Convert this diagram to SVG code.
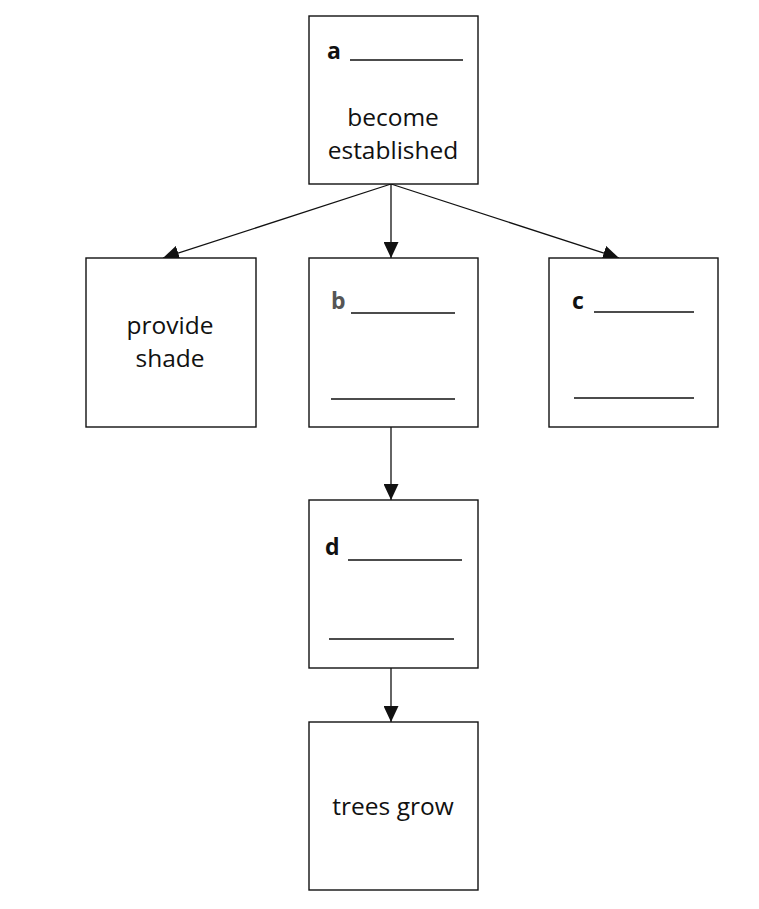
<svg xmlns="http://www.w3.org/2000/svg" width="759" height="909" viewBox="0 0 759 909">
<style>
.box{fill:#fff;stroke:#111;stroke-width:1.4}
.t{font-family:"Open Sans","Liberation Sans",sans-serif;font-size:24.5px;fill:#111;text-anchor:middle}
.lb{font-family:"Open Sans","Liberation Sans",sans-serif;font-size:23px;font-weight:bold;fill:#111}
.bl{stroke:#111;stroke-width:1.4}
.c{stroke:#111;stroke-width:1.3;fill:none}
</style>
<defs>
<marker id="ah" markerUnits="userSpaceOnUse" markerWidth="16" markerHeight="15" refX="16" refY="7.5" orient="auto" viewBox="0 0 16 15">
<path d="M0,0 L16,7.5 L0,15 z" fill="#111"/>
</marker>
</defs>
<rect width="759" height="909" fill="#fff"/>
<g id="connectors">
<line class="c" x1="391" y1="184" x2="163" y2="258" marker-end="url(#ah)"/>
<line class="c" x1="391" y1="184" x2="391" y2="258" marker-end="url(#ah)"/>
<line class="c" x1="391" y1="184" x2="619" y2="258" marker-end="url(#ah)"/>
<line class="c" x1="391" y1="427" x2="391" y2="500" marker-end="url(#ah)"/>
<line class="c" x1="391" y1="668" x2="391" y2="722" marker-end="url(#ah)"/>
</g>
<g id="node-a">
<rect class="box" x="309" y="16" width="169" height="168"/>
<text class="lb" x="327" y="59">a</text>
<line class="bl" x1="350" y1="60" x2="463" y2="60"/>
<text class="t" x="393" y="126">become</text>
<text class="t" x="393" y="159">established</text>
</g>
<g id="node-shade">
<rect class="box" x="86" y="258" width="170" height="169"/>
<text class="t" x="170" y="334">provide</text>
<text class="t" x="170" y="367">shade</text>
</g>
<g id="node-b">
<rect class="box" x="309" y="258" width="169" height="169"/>
<text class="lb" x="331" y="309" style="fill:#555">b</text>
<line class="bl" x1="351" y1="313" x2="455" y2="313"/>
<line class="bl" x1="331" y1="399" x2="455" y2="399"/>
</g>
<g id="node-c">
<rect class="box" x="549" y="258" width="169" height="169"/>
<text class="lb" x="572" y="309">c</text>
<line class="bl" x1="594" y1="312" x2="694" y2="312"/>
<line class="bl" x1="574" y1="398" x2="694" y2="398"/>
</g>
<g id="node-d">
<rect class="box" x="309" y="500" width="169" height="168"/>
<text class="lb" x="325" y="555">d</text>
<line class="bl" x1="348" y1="560" x2="462" y2="560"/>
<line class="bl" x1="329" y1="639" x2="454" y2="639"/>
</g>
<g id="node-trees">
<rect class="box" x="309" y="722" width="169" height="168"/>
<text class="t" x="393" y="815">trees grow</text>
</g>
</svg>
